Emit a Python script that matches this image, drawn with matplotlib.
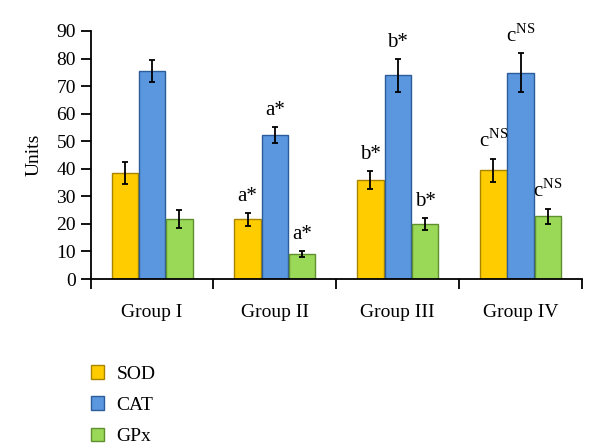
import numpy as np
import matplotlib.pyplot as plt

plt.rcParams["font.family"] = ["Liberation Serif", "DejaVu Serif"]
plt.rcParams["mathtext.fontset"] = "custom"
plt.rcParams["mathtext.rm"] = "Liberation Serif"

groups = ["Group I", "Group II", "Group III", "Group IV"]
series = ["SOD", "CAT", "GPx"]
sod = [38.3, 21.6, 35.9, 39.4]
cat = [75.5, 52.3, 73.9, 74.9]
gpx = [21.8, 9.1, 20.0, 22.7]
sod_err = [4.0, 2.5, 3.2, 4.2]
cat_err = [4.0, 3.0, 6.0, 7.0]
gpx_err = [3.4, 1.0, 2.1, 2.8]
sod_marks = ["", "a*", "b*", r"c$^{\mathrm{NS}}$"]
cat_marks = ["", "a*", "b*", r"c$^{\mathrm{NS}}$"]
gpx_marks = ["", "a*", "b*", r"c$^{\mathrm{NS}}$"]

colors = ["#FFCC00", "#5B97DE", "#99D957"]
edges = ["#A88400", "#2D5C9A", "#5F8F2F"]

fig = plt.figure(figsize=(6, 4.44), dpi=100)
ax = fig.add_axes([0.151, 0.3716, 0.819, 0.5586])

x = np.arange(len(groups))
width = 0.215
step = 0.222
values = [sod, cat, gpx]
errors = [sod_err, cat_err, gpx_err]
marks = [sod_marks, cat_marks, gpx_marks]

for i, name in enumerate(series):
    pos = x + (i - 1) * step
    ax.bar(pos, values[i], width, color=colors[i], edgecolor=edges[i],
           linewidth=1.0, label=name, zorder=2)
    ax.errorbar(pos, values[i], yerr=errors[i], fmt="none", ecolor="black",
                elinewidth=1.3, capsize=2.5, capthick=1.3, zorder=3)
    for j in range(len(groups)):
        if marks[i][j]:
            ax.annotate(marks[i][j], (pos[j], values[i][j] + errors[i][j]),
                        xytext=(0, 5), textcoords="offset points",
                        ha="center", va="bottom", fontsize=15)

ax.set_xlim(-0.5, 3.5)
ax.set_ylim(0, 90)
ax.set_yticks(np.arange(0, 91, 10))
ax.set_xticks(x)
ax.set_xticklabels(groups)
ax.set_xticks(np.arange(-0.5, 3.6, 1), minor=True)
ax.tick_params(axis="x", which="major", length=0, pad=18, labelsize=14)
ax.tick_params(axis="x", which="minor", length=7, width=1.3, direction="out")
ax.tick_params(axis="y", length=7, width=1.3, labelsize=14)
ax.set_ylabel("Units", fontsize=14, labelpad=10)

for side in ["top", "right"]:
    ax.spines[side].set_visible(False)
for side in ["left", "bottom"]:
    ax.spines[side].set_linewidth(1.3)

fig.legend(loc="upper left", bbox_to_anchor=(0.152, 0.177), frameon=False,
           fontsize=14, handlelength=0.67, handleheight=0.67,
           labelspacing=0.7, handletextpad=0.62, borderaxespad=0,
           borderpad=0)

fig.savefig("out.png", dpi=100)
